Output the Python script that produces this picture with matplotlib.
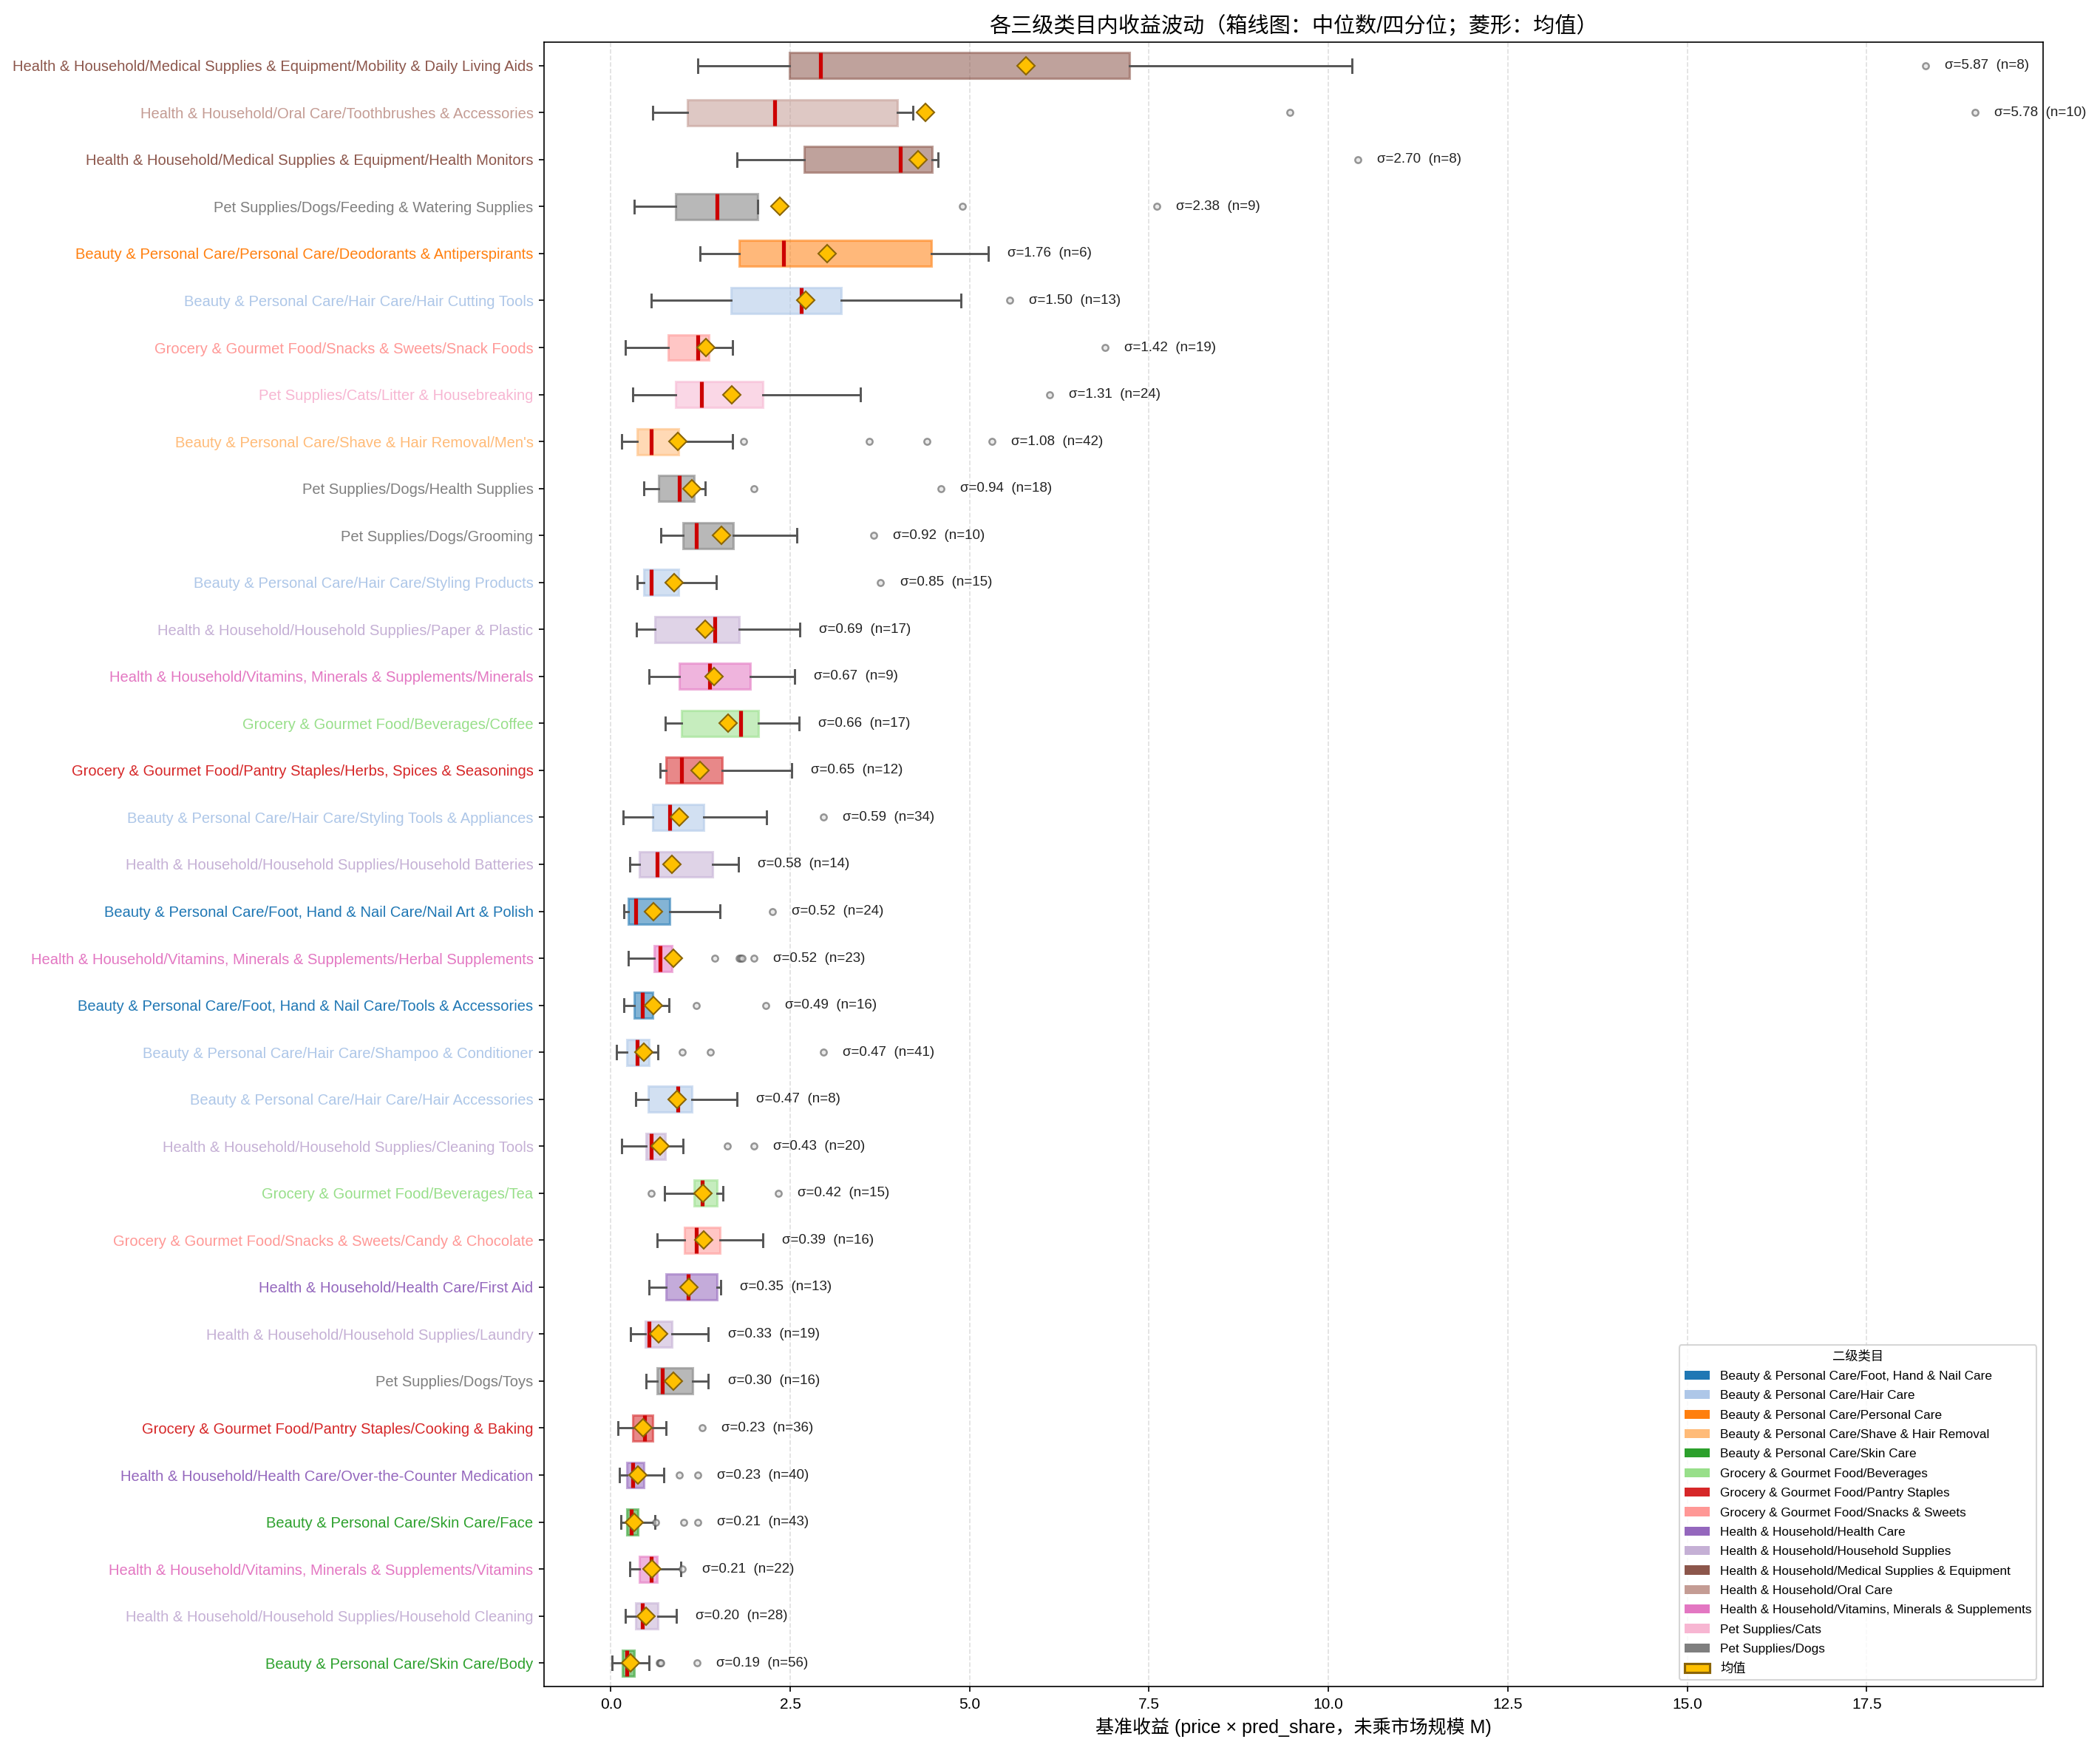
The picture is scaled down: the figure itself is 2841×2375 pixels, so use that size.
import numpy as np
import matplotlib
matplotlib.use("Agg")
import matplotlib.pyplot as plt
from matplotlib.patches import Patch

plt.rcParams['font.family'] = ['Liberation Sans', 'Noto Sans CJK SC']

# third-level categories, top to bottom
labels = [
    "Health & Household/Medical Supplies & Equipment/Mobility & Daily Living Aids",
    "Health & Household/Oral Care/Toothbrushes & Accessories",
    "Health & Household/Medical Supplies & Equipment/Health Monitors",
    "Pet Supplies/Dogs/Feeding & Watering Supplies",
    "Beauty & Personal Care/Personal Care/Deodorants & Antiperspirants",
    "Beauty & Personal Care/Hair Care/Hair Cutting Tools",
    "Grocery & Gourmet Food/Snacks & Sweets/Snack Foods",
    "Pet Supplies/Cats/Litter & Housebreaking",
    "Beauty & Personal Care/Shave & Hair Removal/Men's",
    "Pet Supplies/Dogs/Health Supplies",
    "Pet Supplies/Dogs/Grooming",
    "Beauty & Personal Care/Hair Care/Styling Products",
    "Health & Household/Household Supplies/Paper & Plastic",
    "Health & Household/Vitamins, Minerals & Supplements/Minerals",
    "Grocery & Gourmet Food/Beverages/Coffee",
    "Grocery & Gourmet Food/Pantry Staples/Herbs, Spices & Seasonings",
    "Beauty & Personal Care/Hair Care/Styling Tools & Appliances",
    "Health & Household/Household Supplies/Household Batteries",
    "Beauty & Personal Care/Foot, Hand & Nail Care/Nail Art & Polish",
    "Health & Household/Vitamins, Minerals & Supplements/Herbal Supplements",
    "Beauty & Personal Care/Foot, Hand & Nail Care/Tools & Accessories",
    "Beauty & Personal Care/Hair Care/Shampoo & Conditioner",
    "Beauty & Personal Care/Hair Care/Hair Accessories",
    "Health & Household/Household Supplies/Cleaning Tools",
    "Grocery & Gourmet Food/Beverages/Tea",
    "Grocery & Gourmet Food/Snacks & Sweets/Candy & Chocolate",
    "Health & Household/Health Care/First Aid",
    "Health & Household/Household Supplies/Laundry",
    "Pet Supplies/Dogs/Toys",
    "Grocery & Gourmet Food/Pantry Staples/Cooking & Baking",
    "Health & Household/Health Care/Over-the-Counter Medication",
    "Beauty & Personal Care/Skin Care/Face",
    "Health & Household/Vitamins, Minerals & Supplements/Vitamins",
    "Health & Household/Household Supplies/Household Cleaning",
    "Beauty & Personal Care/Skin Care/Body",
]

whislo = [1.21, 0.58, 1.76, 0.33, 1.24, 0.56, 0.20, 0.31, 0.15, 0.46, 0.70, 0.37,
          0.36, 0.53, 0.76, 0.69, 0.17, 0.26, 0.18, 0.24, 0.18, 0.08, 0.35, 0.15,
          0.75, 0.65, 0.53, 0.27, 0.49, 0.10, 0.12, 0.14, 0.26, 0.20, 0.02]
q1 = [2.49, 1.07, 2.70, 0.90, 1.79, 1.68, 0.80, 0.90, 0.37, 0.67, 1.01, 0.46,
      0.61, 0.95, 0.98, 0.77, 0.58, 0.40, 0.24, 0.60, 0.33, 0.22, 0.52, 0.49,
      1.16, 1.03, 0.77, 0.48, 0.65, 0.30, 0.22, 0.22, 0.40, 0.35, 0.16]
median = [2.92, 2.28, 4.03, 1.48, 2.41, 2.65, 1.21, 1.26, 0.56, 0.95, 1.19, 0.56,
          1.45, 1.38, 1.81, 0.98, 0.82, 0.64, 0.35, 0.69, 0.44, 0.37, 0.93, 0.56,
          1.27, 1.19, 1.08, 0.53, 0.72, 0.47, 0.30, 0.28, 0.56, 0.44, 0.22]
q3 = [7.23, 3.99, 4.48, 2.05, 4.47, 3.21, 1.37, 2.12, 0.94, 1.16, 1.71, 0.94,
      1.79, 1.94, 2.06, 1.55, 1.29, 1.42, 0.82, 0.85, 0.58, 0.53, 1.13, 0.76,
      1.48, 1.52, 1.48, 0.85, 1.14, 0.58, 0.46, 0.38, 0.64, 0.66, 0.33]
whishi = [10.33, 4.21, 4.56, 2.05, 5.26, 4.88, 1.70, 3.48, 1.70, 1.31, 2.59, 1.47,
          2.63, 2.56, 2.62, 2.52, 2.17, 1.78, 1.52, 0.88, 0.81, 0.66, 1.76, 1.01,
          1.56, 2.12, 1.53, 1.36, 1.36, 0.77, 0.74, 0.61, 0.97, 0.91, 0.53]
means = [5.79, 4.38, 4.28, 2.35, 3.01, 2.72, 1.32, 1.69, 0.93, 1.13, 1.54, 0.88,
         1.31, 1.44, 1.63, 1.24, 0.95, 0.85, 0.59, 0.87, 0.59, 0.46, 0.92, 0.69,
         1.28, 1.29, 1.09, 0.67, 0.87, 0.45, 0.38, 0.33, 0.57, 0.49, 0.27]
fliers = [
    [18.32], [9.46, 19.01], [10.41], [4.90, 7.61], [], [5.56], [6.89], [6.11],
    [1.85, 3.60, 4.41, 5.31], [1.99, 4.60], [3.66], [3.76], [], [], [], [],
    [2.96], [], [2.25], [1.45, 1.79, 1.81, 1.83, 1.99], [1.19, 2.16],
    [1.00, 1.39, 2.96], [], [1.62, 1.99], [0.56, 2.33], [], [], [], [],
    [1.27], [0.95, 1.21], [0.62, 1.02, 1.21], [1.00], [], [0.68, 0.69, 0.70, 1.20],
]
sigma = [5.87, 5.78, 2.70, 2.38, 1.76, 1.50, 1.42, 1.31, 1.08, 0.94, 0.92, 0.85,
         0.69, 0.67, 0.66, 0.65, 0.59, 0.58, 0.52, 0.52, 0.49, 0.47, 0.47, 0.43,
         0.42, 0.39, 0.35, 0.33, 0.30, 0.23, 0.23, 0.21, 0.21, 0.20, 0.19]
counts = [8, 10, 8, 9, 6, 13, 19, 24, 42, 18, 10, 15, 17, 9, 17, 12, 34, 14, 24, 23,
          16, 41, 8, 20, 15, 16, 13, 19, 16, 36, 40, 43, 22, 28, 56]

level2 = [
    "Beauty & Personal Care/Foot, Hand & Nail Care",
    "Beauty & Personal Care/Hair Care",
    "Beauty & Personal Care/Personal Care",
    "Beauty & Personal Care/Shave & Hair Removal",
    "Beauty & Personal Care/Skin Care",
    "Grocery & Gourmet Food/Beverages",
    "Grocery & Gourmet Food/Pantry Staples",
    "Grocery & Gourmet Food/Snacks & Sweets",
    "Health & Household/Health Care",
    "Health & Household/Household Supplies",
    "Health & Household/Medical Supplies & Equipment",
    "Health & Household/Oral Care",
    "Health & Household/Vitamins, Minerals & Supplements",
    "Pet Supplies/Cats",
    "Pet Supplies/Dogs",
]

palette = plt.get_cmap('tab20').colors
color_map = {name: palette[i] for i, name in enumerate(level2)}
row_colors = [color_map[lab.rsplit('/', 1)[0]] for lab in labels]

mean_color = '#FFC000'
mean_edge = '#8B6508'

stats = []
for i in range(len(labels)):
    stats.append(dict(label=labels[i], whislo=whislo[i], q1=q1[i], med=median[i],
                      q3=q3[i], whishi=whishi[i], mean=means[i], fliers=fliers[i]))

fig = plt.figure(figsize=(2841 / 150, 2375 / 150), dpi=150)
ax = fig.add_axes([0.2591, 0.0396, 0.9729 - 0.2591, 0.976 - 0.0396])

n = len(labels)
positions = np.arange(1, n + 1)
bp = ax.bxp(stats, positions=positions, widths=0.55, orientation='horizontal',
            patch_artist=True, showmeans=True, showfliers=True,
            medianprops=dict(color='#CC0000', linewidth=2.5),
            whiskerprops=dict(color='#555555', linewidth=1.4),
            capprops=dict(color='#555555', linewidth=1.4),
            flierprops=dict(marker='o', markersize=4, markerfacecolor='#dddddd',
                            markeredgecolor='#555555', markeredgewidth=1.2, alpha=0.6),
            meanprops=dict(marker='D', markersize=8, markerfacecolor=mean_color,
                           markeredgecolor=mean_edge, markeredgewidth=1.0))

for patch, c in zip(bp['boxes'], row_colors):
    patch.set_facecolor(c)
    patch.set_edgecolor(c)
    patch.set_alpha(0.55)
    patch.set_linewidth(1.5)
for m in bp['means']:
    m.set_zorder(5)

for i in range(n):
    top = max([whishi[i]] + fliers[i])
    ax.text(top + 0.27, positions[i], f"σ={sigma[i]:.2f}  (n={counts[i]})",
            va='center', ha='left', fontsize=9, color='#222222')

ax.set_ylim(n + 0.5, 0.5)
ax.set_xlim(-0.93, 19.96)
ax.set_yticks(positions)
ax.set_yticklabels(labels, fontsize=9.7)
for tl, c in zip(ax.get_yticklabels(), row_colors):
    tl.set_color(c)

ax.xaxis.grid(True, linestyle='--', alpha=0.4)
ax.set_axisbelow(True)

ax.set_title("各三级类目内收益波动（箱线图：中位数/四分位；菱形：均值）", fontsize=14)
ax.set_xlabel("基准收益 (price × pred_share，未乘市场规模 M)", fontsize=12)

handles = [Patch(facecolor=color_map[name], label=name) for name in level2]
handles.append(Patch(facecolor=mean_color, edgecolor=mean_edge, linewidth=1.5, label='均值'))
ax.legend(handles=handles, title='二级类目', loc='lower right', fontsize=8.3,
          title_fontsize=8.3, labelspacing=0.65)

fig.savefig('out.png', dpi=150)
